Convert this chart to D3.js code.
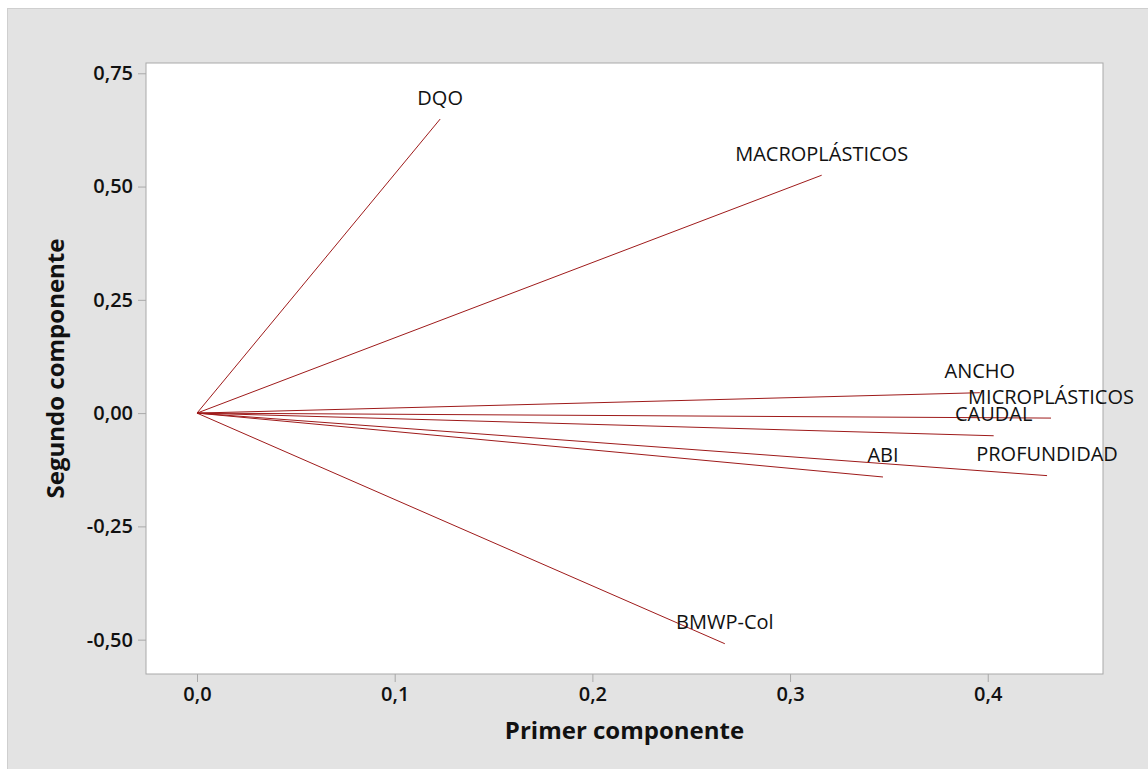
<!DOCTYPE html>
<html>
<head>
<meta charset="utf-8">
<script src="https://cdn.jsdelivr.net/npm/d3@7"></script>
<style>
    body { margin: 0; background: #fff; }
    text { font-family: "Open Sans", "Noto Sans", sans-serif; fill: #111; }
</style>
</head>
<body>
<div id="chart"></div>
<script>
// Gráfica de influencia (loadings) - primer vs segundo componente
const width = 1148;
const height = 769;

const variables = ["DQO", "MACROPLÁSTICOS", "ANCHO", "MICROPLÁSTICOS", "CAUDAL", "PROFUNDIDAD", "ABI", "BMWP-Col"];
const primer = [0.123, 0.316, 0.396, 0.432, 0.403, 0.430, 0.347, 0.267];
const segundo = [0.649, 0.525, 0.045, -0.011, -0.050, -0.138, -0.141, -0.509];

const xTicks = [0.0, 0.1, 0.2, 0.3, 0.4];
const yTicks = [-0.50, -0.25, 0.00, 0.25, 0.50, 0.75];

const plot = { left: 146, top: 63, right: 1103, bottom: 674 };

const locale = d3.formatLocale({ decimal: ",", thousands: ".", grouping: [3], currency: ["", ""], minus: "-" });

const x = d3.scaleLinear()
    .domain([-0.0258, 0.4583])
    .range([plot.left, plot.right]);

const y = d3.scaleLinear()
    .domain([-0.5758, 0.7727])
    .range([plot.bottom, plot.top]);

const svg = d3.select("#chart")
    .append("svg")
    .attr("width", width)
    .attr("height", height);

// fondo gris exterior
svg.append("rect")
    .attr("x", 7.5).attr("y", 8.5)
    .attr("width", width).attr("height", height)
    .attr("fill", "#e3e3e3")
    .attr("stroke", "#cfcfcf");

// area del grafico
svg.append("rect")
    .attr("x", plot.left).attr("y", plot.top)
    .attr("width", plot.right - plot.left)
    .attr("height", plot.bottom - plot.top)
    .attr("fill", "#fff")
    .attr("stroke", "#a9a9a9");

const xAxis = svg.append("g")
    .attr("transform", `translate(0,${plot.bottom})`)
    .call(d3.axisBottom(x).tickValues(xTicks).tickSize(8).tickPadding(5)
        .tickFormat(locale.format(".1f")));

const yAxis = svg.append("g")
    .attr("transform", `translate(${plot.left},0)`)
    .call(d3.axisLeft(y).tickValues(yTicks).tickSize(8).tickPadding(5)
        .tickFormat(locale.format(".2f")));

[xAxis, yAxis].forEach(a => {
    a.select(".domain").remove();
    a.selectAll(".tick line").attr("stroke", "#a9a9a9");
    a.selectAll(".tick text")
        .attr("font-size", 20)
        .attr("font-weight", 600)
        .style("font-family", "\"Open Sans\", sans-serif")
        .attr("fill", "#111");
});

// vectores
svg.append("g")
    .selectAll("line")
    .data(variables)
    .enter()
    .append("line")
    .attr("x1", x(0))
    .attr("y1", y(0))
    .attr("x2", (d, i) => x(primer[i]))
    .attr("y2", (d, i) => y(segundo[i]))
    .attr("stroke", "#9e1a1a")
    .attr("stroke-width", 1);

// etiquetas
svg.append("g")
    .selectAll("text")
    .data(variables)
    .enter()
    .append("text")
    .attr("x", (d, i) => x(primer[i]))
    .attr("y", (d, i) => y(segundo[i]) - 22)
    .attr("text-anchor", "middle")
    .attr("dominant-baseline", "central")
    .attr("font-size", 20)
    .text(d => d);

// titulos de ejes
svg.append("text")
    .attr("x", (plot.left + plot.right) / 2)
    .attr("y", 729)
    .attr("text-anchor", "middle")
    .attr("dominant-baseline", "central")
    .attr("font-size", 24)
    .attr("font-weight", 700)
    .text("Primer componente");

svg.append("text")
    .attr("transform", `translate(54,${(plot.top + plot.bottom) / 2}) rotate(-90)`)
    .attr("text-anchor", "middle")
    .attr("dominant-baseline", "central")
    .attr("font-size", 24)
    .attr("font-weight", 700)
    .text("Segundo componente");
</script>
</body>
</html>
